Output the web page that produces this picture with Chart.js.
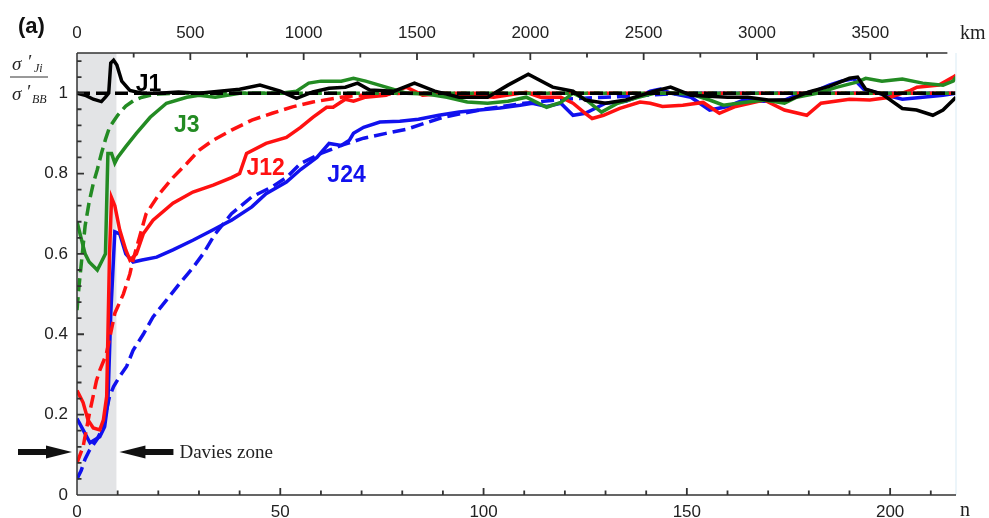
<!DOCTYPE html>
<html>
<head>
<meta charset="utf-8">
<script src="https://cdn.jsdelivr.net/npm/chart.js@4"></script>
<style>
  html, body { margin: 0; padding: 0; background: #ffffff; }
  #c { display: block; }
</style>
</head>
<body>
<canvas id="c" width="989" height="518"></canvas>
<script>
// ---------- data ----------
const nTicks = [0, 50, 100, 150, 200];
const kmTicks = [0, 500, 1000, 1500, 2000, 2500, 3000, 3500];
const yTicks = [0, 0.2, 0.4, 0.6, 0.8, 1];
const nMax = 216.2;
const kmMax = 3878;
const daviesZone = [0, 9.7];

const j1SolidN = [0,2,4,6,7,7.8,8.3,9,9.8,11,13,16,20,25,30,35,40,45,50,54,58,62,66,69,72,78,83,88,94,101,106,111,117,122,125,130,135,142,146,151,160,165,170,175,180,185,190,192,194,198,203,206.5,210.5,213,216.2];
const j1SolidV = [1.0,0.995,0.985,0.979,0.99,1.0,1.075,1.082,1.07,1.03,1.007,1.0,1.0,1.003,1.0,1.005,1.01,1.02,1.005,0.987,1.003,1.012,1.015,1.025,1.008,1.005,1.025,1.005,0.99,0.99,1.02,1.047,1.015,1.005,0.983,0.975,0.983,1.005,1.015,0.995,0.99,0.99,0.983,0.983,1.003,1.017,1.037,1.04,1.01,0.998,0.962,0.958,0.945,0.958,0.99];
const j1DashN = [0, 216.2];
const j1DashV = [1.0, 1.0];

const j3SolidN = [0,1,2,3,4,5,6,7,7.6,8.5,9.3,10,12,14.6,18,22,27,30,34,40,45,50,54,57,60,65,68,71,76,81,86,91,96,101,106,110.5,115.5,119,122,125,129,133,138,142,146,151,155.6,159,164,169,174,177,182,187,192,194,198,203,208,213,215.5,216.2];
const j3SolidV = [0.68,0.64,0.60,0.58,0.57,0.56,0.58,0.60,0.85,0.85,0.826,0.84,0.867,0.90,0.94,0.975,0.99,0.995,0.99,1.0,1.0,1.0,1.005,1.025,1.03,1.03,1.037,1.03,1.015,1.0,0.998,0.99,0.978,0.975,0.98,0.99,0.965,0.977,1.0,0.985,0.953,0.975,0.99,1.0,1.0,0.998,0.983,0.97,0.977,0.983,0.975,0.99,1.0,1.015,1.028,1.037,1.03,1.035,1.025,1.02,1.03,1.04];
const j3DashN = [0,0.5,1,2,3,4,5,6,7,8,9,10,12,14,16,18,20,25,216.2];
const j3DashV = [0.46,0.52,0.57,0.67,0.73,0.775,0.81,0.85,0.885,0.915,0.93,0.945,0.968,0.982,0.99,0.995,0.998,1.0,1.0];

const j12SolidN = [0,1,1.5,2.7,4,5.6,6.5,7.3,8,8.5,9.3,10.5,12,13,14.6,16.3,18.7,23.6,28.5,33.5,38,40,41.7,46.5,51.5,55,58,61.4,63,66,68,71,76,81,85,91,96,102.5,110.5,114,119,122,125,126.7,129.5,133.5,138.5,141,144,149,154,158,162,169,174,179.5,183,190,195,200,205,206.6,212,215.5,216.2];
const j12SolidV = [0.26,0.24,0.23,0.187,0.167,0.162,0.187,0.245,0.6,0.74,0.72,0.66,0.61,0.585,0.60,0.65,0.684,0.726,0.754,0.771,0.79,0.80,0.85,0.875,0.89,0.915,0.94,0.965,0.965,0.985,0.98,0.99,0.995,1.015,0.995,1.0,0.995,0.99,1.002,0.99,0.99,0.975,0.95,0.937,0.945,0.962,0.978,0.975,0.967,0.97,0.977,0.95,0.967,0.983,0.958,0.945,0.975,0.985,0.983,0.99,1.007,1.015,1.02,1.04,1.045];
const j12DashN = [0,1.5,3,4.8,5.6,7.2,9.3,11.4,13,13.8,17,20.3,23.6,27,30,33.5,38,43,48,53,58,65,70,80,216.2];
const j12DashV = [0.08,0.12,0.2,0.285,0.31,0.35,0.452,0.50,0.55,0.585,0.70,0.75,0.79,0.825,0.858,0.883,0.908,0.933,0.95,0.966,0.978,0.99,0.995,1.0,1.0];

const j24SolidN = [0,1.5,3.2,4.8,5.6,6.8,7.6,8.3,9.3,10.5,12,13.8,16,19.6,23.6,28.5,33.5,38,43,46.5,51.5,55,59,62,65,67,68,70.5,74.5,79.4,84,89,94,99,104,109,112,115.5,119,122,125,128,130,135,138.5,141,143.5,146,151,155.6,160,164,169,174,177,182,185,188,191,193.5,198,203,208,213,216.2];
const j24SolidV = [0.19,0.162,0.13,0.14,0.145,0.17,0.23,0.45,0.655,0.65,0.60,0.58,0.585,0.592,0.61,0.634,0.66,0.684,0.717,0.75,0.779,0.81,0.84,0.875,0.87,0.883,0.9,0.915,0.928,0.93,0.935,0.945,0.953,0.958,0.963,0.97,0.975,0.967,0.975,0.945,0.95,0.965,0.975,0.98,0.993,1.005,1.01,1.0,0.99,0.958,0.967,0.983,0.98,0.983,0.995,1.007,1.02,1.03,1.036,1.01,0.998,0.985,0.99,0.995,1.0];
const j24DashN = [0,1,2,3,4,5,6,7,8,9,10.5,12.2,13.8,16.3,18.7,22,25.3,28.6,31,34,38,43,48,51.5,55,60,65,70.5,76,81,90,100,110,120,130,140,150,216.2];
const j24DashV = [0.04,0.06,0.09,0.11,0.125,0.14,0.16,0.2,0.245,0.27,0.295,0.32,0.36,0.40,0.443,0.485,0.527,0.567,0.60,0.65,0.70,0.742,0.767,0.79,0.825,0.85,0.87,0.888,0.9,0.91,0.94,0.96,0.975,0.985,0.99,0.995,1.0,1.0];

// series labels: text, colour, anchor (n, value)
const seriesLabels = [
  { text: 'J1',  color: '#000000', n: 17.6, v: 1.022 },
  { text: 'J3',  color: '#238b23', n: 27.0, v: 0.920 },
  { text: 'J12', color: '#ff1111', n: 46.4, v: 0.813 },
  { text: 'J24', color: '#1111ee', n: 66.3, v: 0.794 }
];

// ---------- helpers ----------
const pts = (ns, vs) => ns.map((n, i) => ({ x: n, y: vs[i] }));
const BLACK = '#000000', GREEN = '#238b23', RED = '#ff1111', BLUE = '#1111ee';
const DASH = [13, 6];
function ds(label, ns, vs, color, dashed) {
  return {
    label, data: pts(ns, vs), borderColor: color, backgroundColor: color,
    borderWidth: 3.5, borderDash: dashed ? DASH : [],
    pointRadius: 0, tension: 0, fill: false, xAxisID: 'x', yAxisID: 'y'
  };
}

const datasets = [
  ds('J1', j1SolidN, j1SolidV, BLACK, false),
  ds('J1 ref', j1DashN, j1DashV, BLACK, true),
  ds('J3', j3SolidN, j3SolidV, GREEN, false),
  ds('J3 dashed', j3DashN, j3DashV, GREEN, true),
  ds('J12', j12SolidN, j12SolidV, RED, false),
  ds('J12 dashed', j12DashN, j12DashV, RED, true),
  ds('J24', j24SolidN, j24SolidV, BLUE, false),
  ds('J24 dashed', j24DashN, j24DashV, BLUE, true)
];

const AXIS = '#333333';
const TICK_FONT = { family: "'Liberation Sans', Arial, sans-serif", size: 17 };

const decorations = {
  id: 'decorations',
  beforeDatasetsDraw(chart) {
    const { ctx, chartArea: a, scales: { x } } = chart;
    ctx.save();
    ctx.fillStyle = '#e3e4e6';
    const x0 = x.getPixelForValue(daviesZone[0]);
    const x1 = x.getPixelForValue(daviesZone[1]);
    ctx.fillRect(x0, a.top, x1 - x0, a.bottom - a.top);
    ctx.restore();
  },
  afterDatasetsDraw(chart) {
    const { ctx, chartArea: a, scales: { x, y, xTop } } = chart;
    ctx.save();
    // faint right border
    ctx.strokeStyle = '#e6f2f8';
    ctx.lineWidth = 1.5;
    ctx.beginPath(); ctx.moveTo(a.right, a.top); ctx.lineTo(a.right, a.bottom); ctx.stroke();

    // axis lines
    ctx.strokeStyle = AXIS;
    ctx.lineWidth = 1.5;
    ctx.beginPath();
    ctx.moveTo(a.left, a.top); ctx.lineTo(a.left, a.bottom);
    ctx.moveTo(a.left, a.bottom); ctx.lineTo(a.right, a.bottom);
    ctx.moveTo(a.left, a.top); ctx.lineTo(xTop.getPixelForValue(3840), a.top);
    ctx.stroke();

    // inward ticks
    ctx.lineWidth = 1.8;
    ctx.strokeStyle = AXIS;
    ctx.beginPath();
    for (let n = 10; n <= 210; n += 10) {
      const px = x.getPixelForValue(n);
      const len = (n % 50 === 0) ? 7 : 4.5;
      ctx.moveTo(px, a.bottom); ctx.lineTo(px, a.bottom - len);
    }
    for (let k = 250; k <= 3750; k += 250) {
      const px = xTop.getPixelForValue(k);
      const len = (k % 500 === 0) ? 7 : 4.5;
      ctx.moveTo(px, a.top); ctx.lineTo(px, a.top + len);
    }
    for (let i = 1; i <= 27; i++) {
      const v = i * 0.04;
      const py = y.getPixelForValue(v);
      const len = (i % 5 === 0) ? 7 : 4.5;
      ctx.moveTo(a.left, py); ctx.lineTo(a.left + len, py);
    }
    ctx.stroke();

    // series labels
    ctx.font = "bold 23px 'Liberation Sans', Arial, sans-serif";
    ctx.textAlign = 'center';
    ctx.textBaseline = 'middle';
    seriesLabels.forEach(l => {
      ctx.fillStyle = l.color;
      ctx.fillText(l.text, x.getPixelForValue(l.n), y.getPixelForValue(l.v));
    });

    // Davies zone arrows + text
    const ay = y.getPixelForValue(0.107);
    const xl = x.getPixelForValue(daviesZone[0]);
    const xr = x.getPixelForValue(daviesZone[1]);
    ctx.fillStyle = '#111111';
    const tipL = xl - 5;
    ctx.fillRect(tipL - 54, ay - 3, 30, 6);
    ctx.beginPath();
    ctx.moveTo(tipL, ay); ctx.lineTo(tipL - 26, ay - 6.5); ctx.lineTo(tipL - 26, ay + 6.5); ctx.closePath(); ctx.fill();
    const tipR = xr + 3;
    ctx.fillRect(tipR + 24, ay - 3, 30, 6);
    ctx.beginPath();
    ctx.moveTo(tipR, ay); ctx.lineTo(tipR + 26, ay - 6.5); ctx.lineTo(tipR + 26, ay + 6.5); ctx.closePath(); ctx.fill();
    ctx.font = "19px 'Liberation Serif', 'Times New Roman', serif";
    ctx.textAlign = 'left';
    ctx.textBaseline = 'middle';
    ctx.fillStyle = '#222222';
    ctx.fillText('Davies zone', tipR + 60, ay + 1);

    // axis unit labels
    ctx.font = "20px 'Liberation Serif', 'Times New Roman', serif";
    ctx.fillStyle = '#222222';
    ctx.textAlign = 'left';
    ctx.textBaseline = 'middle';
    ctx.fillText('km', a.right + 4, 34);
    ctx.fillText('n', a.right + 4, 511);

    // panel tag
    ctx.font = "bold 22px 'Liberation Sans', Arial, sans-serif";
    ctx.fillStyle = '#111111';
    ctx.textAlign = 'left';
    ctx.textBaseline = 'middle';
    ctx.fillText('(a)', 18, 27);

    // y-axis title: sigma'_Ji / sigma'_BB
    ctx.fillStyle = '#222222';
    ctx.font = "italic 19px 'Liberation Serif', 'Times New Roman', serif";
    ctx.textBaseline = 'alphabetic';
    ctx.fillText('\u03C3', 12, 70);
    ctx.fillText('\u2032', 27, 68);
    ctx.font = "italic 12px 'Liberation Serif', 'Times New Roman', serif";
    ctx.fillText('Ji', 34, 72);
    ctx.strokeStyle = '#333333';
    ctx.lineWidth = 1;
    ctx.beginPath(); ctx.moveTo(10, 77); ctx.lineTo(48, 77); ctx.stroke();
    ctx.font = "italic 19px 'Liberation Serif', 'Times New Roman', serif";
    ctx.fillText('\u03C3', 12, 100);
    ctx.fillText('\u2032', 26, 98);
    ctx.font = "italic 12px 'Liberation Serif', 'Times New Roman', serif";
    ctx.fillText('BB', 32, 103);
    ctx.restore();
  }
};

new Chart(document.getElementById('c'), {
  type: 'line',
  data: { datasets },
  plugins: [decorations],
  options: {
    responsive: false,
    animation: false,
    devicePixelRatio: 1,
    layout: { padding: { left: 0, right: 33, top: 0, bottom: 0 } },
    plugins: { legend: { display: false }, tooltip: { enabled: false } },
    scales: {
      x: {
        type: 'linear', position: 'bottom', min: 0, max: nMax,
        grid: { display: false, drawTicks: false },
        border: { display: false },
        afterBuildTicks: s => { s.ticks = nTicks.map(v => ({ value: v })); },
        afterFit: s => { s.height = 23; },
        ticks: { font: TICK_FONT, color: '#222222', padding: 7, maxRotation: 0, autoSkip: false,
                 callback: v => String(v) }
      },
      xTop: {
        type: 'linear', position: 'top', min: 0, max: kmMax,
        grid: { display: false, drawTicks: false },
        border: { display: false },
        afterBuildTicks: s => { s.ticks = kmTicks.map(v => ({ value: v })); },
        afterFit: s => { s.height = 53; },
        ticks: { font: TICK_FONT, color: '#222222', padding: 9, maxRotation: 0, autoSkip: false,
                 callback: v => String(v) }
      },
      y: {
        type: 'linear', position: 'left', min: 0, max: 1.1,
        grid: { display: false, drawTicks: false },
        border: { display: false },
        afterBuildTicks: s => { s.ticks = yTicks.map(v => ({ value: v })); },
        afterFit: s => { s.width = 77; },
        ticks: {
          font: TICK_FONT, color: '#222222', padding: 9,
          callback: v => (v === 0 ? '0' : v === 1 ? '1' : Number(v).toFixed(1))
        }
      }
    }
  }
});
</script>
</body>
</html>
